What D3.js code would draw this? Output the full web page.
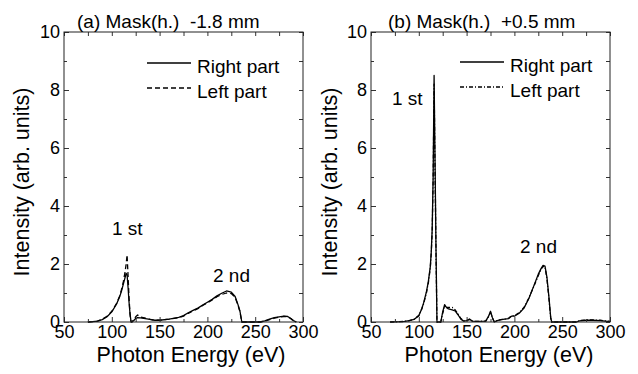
<!DOCTYPE html>
<html>
<head>
<meta charset="utf-8">
<script src="https://cdn.jsdelivr.net/npm/d3@7"></script>
<style>
  html, body { margin: 0; padding: 0; background: #fff; }
  svg { display: block; font-family: "Liberation Sans", Arial, Helvetica, sans-serif; }
  text { white-space: pre; }
</style>
</head>
<body>
<svg id="chart" width="638" height="374"></svg>
<script>
// Photon energy spectra, two mask positions

const xTicks = [50, 100, 150, 200, 250, 300];
const xMinor = [75, 125, 175, 225, 275];
const yTicks = [0, 2, 4, 6, 8, 10];
const yMinor = [1, 3, 5, 7, 9];

const seriesNames = ["Right part", "Left part"];

// panel (a)
const energyA = [75, 80, 85, 90, 95, 100, 105, 108, 110, 112, 114, 115, 116, 117, 118,
  119, 120, 121, 123, 125, 127, 130, 135, 140, 145, 150, 160, 170, 175, 180,
  185, 190, 195, 200, 205, 210, 215, 220, 225, 229, 232, 234, 236, 240, 250,
  255, 260, 265, 270, 275, 280, 284, 287, 290, 293];
const rightA = [0, 0.01, 0.03, 0.08, 0.18, 0.35, 0.62, 0.85, 1.05, 1.3, 1.55, 1.68, 1.62, 1.2, 0.7,
  0.3, 0.05, 0, 0.05, 0.12, 0.15, 0.14, 0.12, 0.09, 0.06, 0.06, 0.1, 0.16, 0.22, 0.32,
  0.4, 0.48, 0.58, 0.68, 0.78, 0.9, 0.99, 1.07, 1.03, 0.88, 0.6, 0.38, 0, 0, 0,
  0, 0.04, 0.1, 0.15, 0.18, 0.2, 0.19, 0.13, 0.05, 0];
const leftA = [0, 0.01, 0.03, 0.09, 0.2, 0.37, 0.64, 0.88, 1.1, 1.38, 1.75, 2.0, 2.32, 1.6, 0.85,
  0.3, 0, 0, 0.08, 0.18, 0.24, 0.17, 0.13, 0.09, 0.06, 0.06, 0.1, 0.15, 0.2, 0.3,
  0.38, 0.46, 0.57, 0.66, 0.76, 0.87, 0.95, 1.0, 0.98, 0.85, 0.58, 0.36, 0, 0, 0,
  0, 0.03, 0.08, 0.13, 0.17, 0.19, 0.18, 0.12, 0.04, 0];

// panel (b)
const energyB = [70, 80, 85, 90, 95, 100, 103, 105, 108, 110, 112, 113, 114, 115, 116,
  117, 118, 119, 123, 125, 127, 129, 131, 135, 138, 141, 144, 147, 150, 153,
  156, 160, 170, 173, 175, 177, 179, 182, 186, 190, 194, 197, 200, 205, 210,
  215, 220, 225, 228, 230, 232, 234, 236, 238, 239, 265, 268, 275, 282, 290,
  295, 300];
const rightB = [0, 0.01, 0.02, 0.05, 0.09, 0.22, 0.45, 0.65, 1.05, 1.4, 1.9, 2.4, 3.2, 5.0, 8.5,
  5.5, 2.5, 0, 0, 0.35, 0.6, 0.5, 0.45, 0.42, 0.38, 0.25, 0.1, 0.03, 0.05, 0.1,
  0.03, 0.02, 0.03, 0.2, 0.37, 0.15, 0, 0.05, 0.08, 0.1, 0.12, 0.2, 0.2, 0.3, 0.48,
  0.8, 1.22, 1.65, 1.85, 1.95, 1.93, 1.55, 0.9, 0.15, 0, 0, 0.04, 0.06, 0.06, 0.05,
  0.03, 0.01];
const leftB = [0, 0.01, 0.02, 0.05, 0.09, 0.22, 0.44, 0.63, 1.0, 1.35, 1.85, 2.35, 3.1, 4.9, 8.2,
  5.3, 2.4, 0, 0, 0.3, 0.52, 0.5, 0.5, 0.5, 0.42, 0.28, 0.12, 0.04, 0.05, 0.09,
  0.03, 0.02, 0.03, 0.18, 0.33, 0.14, 0, 0.05, 0.08, 0.1, 0.13, 0.22, 0.22, 0.32, 0.5,
  0.82, 1.2, 1.6, 1.82, 1.92, 1.9, 1.5, 0.85, 0.12, 0, 0, 0.05, 0.07, 0.07, 0.06,
  0.04, 0.02];

const svg = d3.select("#chart");

const panels = [
  {
    left: 64, right: 303, top: 32, bottom: 322,
    title: "(a) Mask(h.)  -1.8 mm", titleX: 77,
    energy: energyA, series: [rightA, leftA], dash: [null, "5,3"],
    legX: 147, legY: 63,
    notes: [{t: "1 st", x: 112, y: 235}, {t: "2 nd", x: 213, y: 282}],
    yTitleX: 29, xTitleX: 191
  },
  {
    left: 371, right: 610, top: 32, bottom: 322,
    title: "(b) Mask(h.)  +0.5 mm", titleX: 388,
    energy: energyB, series: [rightB, leftB], dash: [null, "4,2,1,2"],
    legX: 460, legY: 62,
    notes: [{t: "1 st", x: 392, y: 105}, {t: "2 nd", x: 520, y: 253}],
    yTitleX: 337, xTitleX: 499
  }
];

panels.forEach(drawPanel);

function drawPanel(p) {
  const x = d3.scaleLinear().domain([50, 300]).range([p.left, p.right]);
  const y = d3.scaleLinear().domain([0, 10]).range([p.bottom, p.top]);

  const g = svg.append("g");

  // curves (drawn first, frame on top)
  const line = d3.line()
    .x((d, i) => x(p.energy[i]))
    .y(d => y(d));

  p.series.forEach((vals, k) => {
    g.append("path")
      .datum(vals)
      .attr("fill", "none")
      .attr("stroke", "#000")
      .attr("stroke-width", 1.3)
      .attr("stroke-linejoin", "round")
      .attr("stroke-dasharray", p.dash[k])
      .attr("d", line);
  });

  // axes with inward ticks
  const styleAxis = sel => {
    sel.select(".domain").remove();
    sel.selectAll(".tick line").attr("stroke", "#333");
    sel.selectAll("text").attr("font-size", 18).attr("fill", "#000")
      .attr("font-family", "Liberation Sans, Arial, sans-serif");
  };

  g.append("g")
    .attr("transform", `translate(0,${p.bottom})`)
    .call(d3.axisBottom(x).tickValues(xTicks).tickSize(-5).tickPadding(3).tickFormat(d3.format("d")))
    .call(styleAxis);
  g.append("g")
    .attr("transform", `translate(0,${p.bottom})`)
    .call(d3.axisBottom(x).tickValues(xMinor).tickSize(-3).tickFormat(""))
    .call(styleAxis);
  g.append("g")
    .attr("transform", `translate(0,${p.top})`)
    .call(d3.axisTop(x).tickValues(xTicks.concat(xMinor)).tickSize(-4).tickFormat(""))
    .call(styleAxis);

  g.append("g")
    .attr("transform", `translate(${p.left},0)`)
    .call(d3.axisLeft(y).tickValues(yTicks).tickSize(-5).tickPadding(4).tickFormat(d3.format("d")))
    .call(styleAxis);
  g.append("g")
    .attr("transform", `translate(${p.left},0)`)
    .call(d3.axisLeft(y).tickValues(yMinor).tickSize(-3).tickFormat(""))
    .call(styleAxis);
  g.append("g")
    .attr("transform", `translate(${p.right},0)`)
    .call(d3.axisRight(y).tickValues(yTicks.concat(yMinor)).tickSize(-4).tickFormat(""))
    .call(styleAxis);

  // frame
  g.append("rect")
    .attr("x", p.left).attr("y", p.top)
    .attr("width", p.right - p.left).attr("height", p.bottom - p.top)
    .attr("fill", "none").attr("stroke", "#222").attr("stroke-width", 1);

  // titles
  g.append("text")
    .attr("x", p.titleX).attr("y", 28)
    .attr("font-size", 19)
    .text(p.title);

  g.append("text")
    .attr("x", p.xTitleX).attr("y", 362)
    .attr("text-anchor", "middle")
    .attr("font-size", 21.5)
    .text("Photon Energy (eV)");

  g.append("text")
    .attr("transform", `translate(${p.yTitleX},${(p.top + p.bottom) / 2 + 5}) rotate(-90)`)
    .attr("text-anchor", "middle")
    .attr("font-size", 21.5)
    .text("Intensity (arb. units)");

  // legend
  seriesNames.forEach((name, k) => {
    const ly = p.legY + k * 25;
    g.append("line")
      .attr("x1", p.legX).attr("x2", p.legX + 44)
      .attr("y1", ly).attr("y2", ly)
      .attr("stroke", "#000").attr("stroke-width", 1.3)
      .attr("stroke-dasharray", p.dash[k]);
    g.append("text")
      .attr("x", p.legX + 50).attr("y", ly + 9.5)
      .attr("font-size", 19)
      .text(name);
  });

  // peak labels
  p.notes.forEach(n => {
    g.append("text")
      .attr("x", n.x).attr("y", n.y)
      .attr("font-size", 19)
      .text(n.t);
  });
}
</script>
</body>
</html>
